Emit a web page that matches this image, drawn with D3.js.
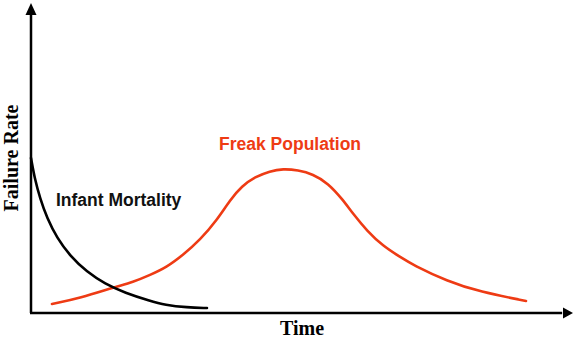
<!DOCTYPE html>
<html>
<head>
<meta charset="utf-8">
<script src="https://cdn.jsdelivr.net/npm/d3@7"></script>
<style>
  html, body { margin: 0; padding: 0; background: #fff; }
  svg { display: block; }
</style>
</head>
<body>
<svg id="chart"></svg>
<script>
// time (0-100) and failure rate (0-100)
var infantTime = [0, 0.74, 1.66, 2.95, 4.8, 7.2, 10.33, 13.65, 17.34, 21.96, 24.7, 28.8, 32.47];
var infantRate = [50.0, 42.9, 37.1, 30.6, 24.2, 18.4, 13.2, 9.4, 6.5, 3.9, 2.6, 1.8, 1.6];

var freakTime = [3.87, 9.04, 15.5, 18.82, 21.96, 25.09, 28.04, 31.18, 34.32, 36.72, 38.93, 41.33,
                 44.1, 46.49, 49.26, 52.03, 54.8, 57.56, 59.41, 62.0, 64.94, 68.08, 70.48,
                 76.75, 82.84, 91.33];
var freakRate = [2.9, 4.8, 8.4, 10.0, 12.26, 14.84, 18.71, 23.55, 30.0, 36.45, 40.97, 43.9,
                 45.8, 46.5, 46.1, 44.8, 41.9, 36.5, 32.0, 26.5, 21.6, 18.1, 15.5,
                 10.3, 6.8, 3.9];

var labels = [
  {name: "Infant Mortality", time: 4.6, rate: 34.5, color: "#111"},
  {name: "Freak Population", time: 34.7, rate: 52.6, color: "#ee3b14"}
];

var svgWidth = 588, svgHeight = 348;
var svg = d3.select("#chart")
    .attr("width", svgWidth)
    .attr("height", svgHeight);

var x = d3.scaleLinear().domain([0, 100]).range([31, 573]);
var y = d3.scaleLinear().domain([0, 100]).range([313, 3]);

var line = d3.line()
    .x(function(d) { return x(d[0]); })
    .y(function(d) { return y(d[1]); })
    .curve(d3.curveBasis);

// axes with arrow heads
svg.append("line")
    .attr("x1", x(0)).attr("y1", y(0))
    .attr("x2", x(0)).attr("y2", y(97))
    .attr("stroke", "#000").attr("stroke-width", 2.5);
svg.append("line")
    .attr("x1", x(0) - 1).attr("y1", y(0))
    .attr("x2", x(98)).attr("y2", y(0))
    .attr("stroke", "#000").attr("stroke-width", 2.5);

svg.append("path")
    .attr("d", "M" + x(0) + "," + y(100) + "L" + (x(0) + 5.5) + "," + (y(100) + 12) +
               "L" + (x(0) - 5.5) + "," + (y(100) + 12) + "Z")
    .attr("fill", "#000");
svg.append("path")
    .attr("d", "M" + x(100) + "," + y(0) + "L" + (x(100) - 10) + "," + (y(0) - 5.5) +
               "L" + (x(100) - 10) + "," + (y(0) + 5.5) + "Z")
    .attr("fill", "#000");

// curves
svg.append("path")
    .datum(d3.zip(freakTime, freakRate))
    .attr("fill", "none")
    .attr("stroke", "#ee3b14")
    .attr("stroke-width", 2.6)
    .attr("stroke-linecap", "round")
    .attr("d", line);

svg.append("path")
    .datum(d3.zip(infantTime, infantRate))
    .attr("fill", "none")
    .attr("stroke", "#000")
    .attr("stroke-width", 2.6)
    .attr("stroke-linecap", "round")
    .attr("d", line);

// series labels
svg.selectAll(".series-label")
    .data(labels)
    .enter().append("text")
    .attr("class", "series-label")
    .attr("x", function(d) { return x(d.time); })
    .attr("y", function(d) { return y(d.rate); })
    .attr("fill", function(d) { return d.color; })
    .style("font-family", "'Liberation Sans', Arial, sans-serif")
    .style("font-weight", "bold")
    .style("font-size", "17.5px")
    .text(function(d) { return d.name; });

// axis titles
svg.append("text")
    .attr("x", x(50))
    .attr("y", 335)
    .attr("text-anchor", "middle")
    .style("font-family", "'Liberation Serif', 'Times New Roman', serif")
    .style("font-weight", "bold")
    .style("font-size", "20px")
    .text("Time");

svg.append("text")
    .attr("transform", "translate(18," + y(50) + ") rotate(-90)")
    .attr("text-anchor", "middle")
    .style("font-family", "'Liberation Serif', 'Times New Roman', serif")
    .style("font-weight", "bold")
    .style("font-size", "20px")
    .text("Failure Rate");
</script>
</body>
</html>
